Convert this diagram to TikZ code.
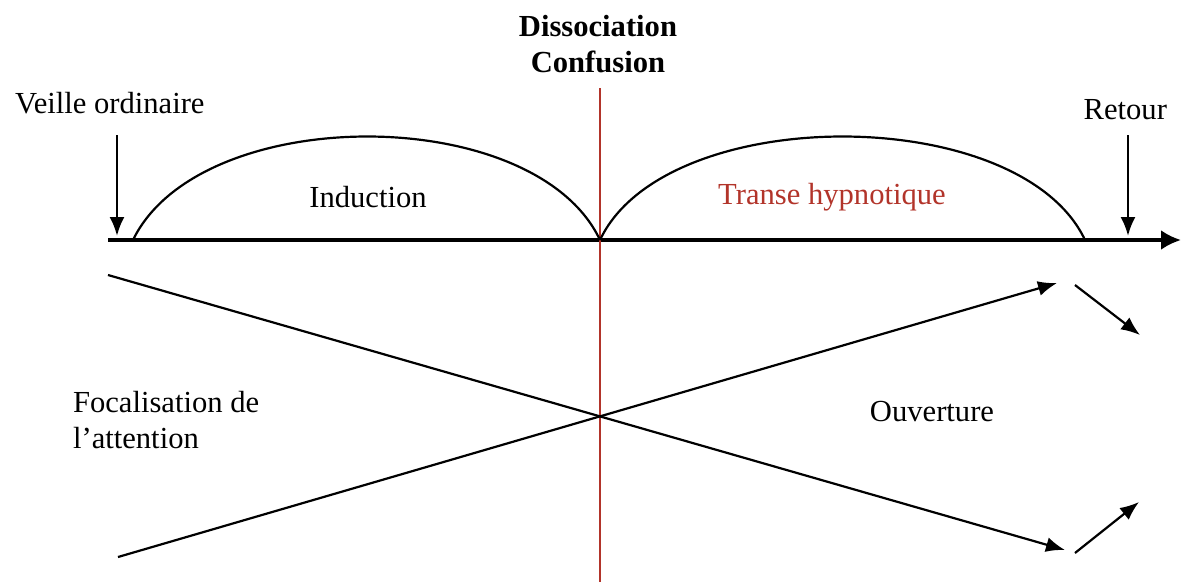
\documentclass[tikz,border=0pt]{standalone}
\usepackage{fontspec}
\setmainfont{Liberation Serif}
\usepackage{tikz}
\usetikzlibrary{arrows.meta}
\definecolor{rouge}{RGB}{178,52,42}

\begin{document}
\begin{tikzpicture}[>={Latex[length=9.5pt, width=7.5pt]}, x=0.5pt, y=-0.5pt, font=\fontsize{15.3}{18}\selectfont]
    \useasboundingbox (0, 0) rectangle (1185, 586);
    %points de repere
    \coordinate (debut) at (108, 240);
    \coordinate (fin) at (1181, 240);
    \coordinate (milieu) at (600, 240);
    \coordinate (haut) at (600, 88);
    \coordinate (bas) at (600, 582);
    %axe du temps
    \draw[-{Latex[length=10pt, width=10pt]}, line width=1.8pt] (debut) -- (fin);
    %ligne de dissociation
    \draw[rouge, line width=1.2pt] (haut) -- (bas);
    %fleches verticales
    \coordinate (v1) at (117, 135);
    \coordinate (v2) at (117, 236);
    \coordinate (r1) at (1128, 135);
    \coordinate (r2) at (1128, 236);
    \draw[->, line width=1.3pt] (v1) -- (v2);
    \draw[->, line width=1.3pt] (r1) -- (r2);
    %arcs
    \coordinate (a1) at (133, 240);
    \coordinate (a2) at (1085, 240);
    \draw[line width=1.1pt] (a1) .. controls (200, 102) and (535, 102) .. (milieu);
    \draw[line width=1.1pt] (milieu) .. controls (665, 102) and (1020, 102) .. (a2);
    %lignes croisees
    \coordinate (c1) at (108, 275);
    \coordinate (c2) at (1065, 550);
    \coordinate (c3) at (118, 557);
    \coordinate (c4) at (1057, 283);
    \draw[->, line width=1.1pt] (c1) -- (c2);
    \draw[->, line width=1.1pt] (c3) -- (c4);
    %petites fleches
    \coordinate (p1) at (1075, 285);
    \coordinate (p2) at (1140, 335);
    \coordinate (p3) at (1075, 553);
    \coordinate (p4) at (1139, 502);
    \draw[->, line width=1.1pt] (p1) -- (p2);
    \draw[->, line width=1.1pt] (p3) -- (p4);
    %textes
    \node[font=\fontsize{15.3}{18}\selectfont\bfseries, align=center] (diss) at (598, 44) {Dissociation\\Confusion};
    \node[anchor=west] (veille) at (8, 103) {Veille ordinaire};
    \node[anchor=east] (retour) at (1174, 110) {Retour};
    \node (induc) at (368, 197) {Induction};
    \node[text=rouge] (transe) at (832, 197) {Transe hypnotique};
    \node[anchor=west, align=left] (focal) at (66, 420) {Focalisation de\\l’attention};
    \node (ouvert) at (932, 412) {Ouverture};
\end{tikzpicture}
\end{document}
